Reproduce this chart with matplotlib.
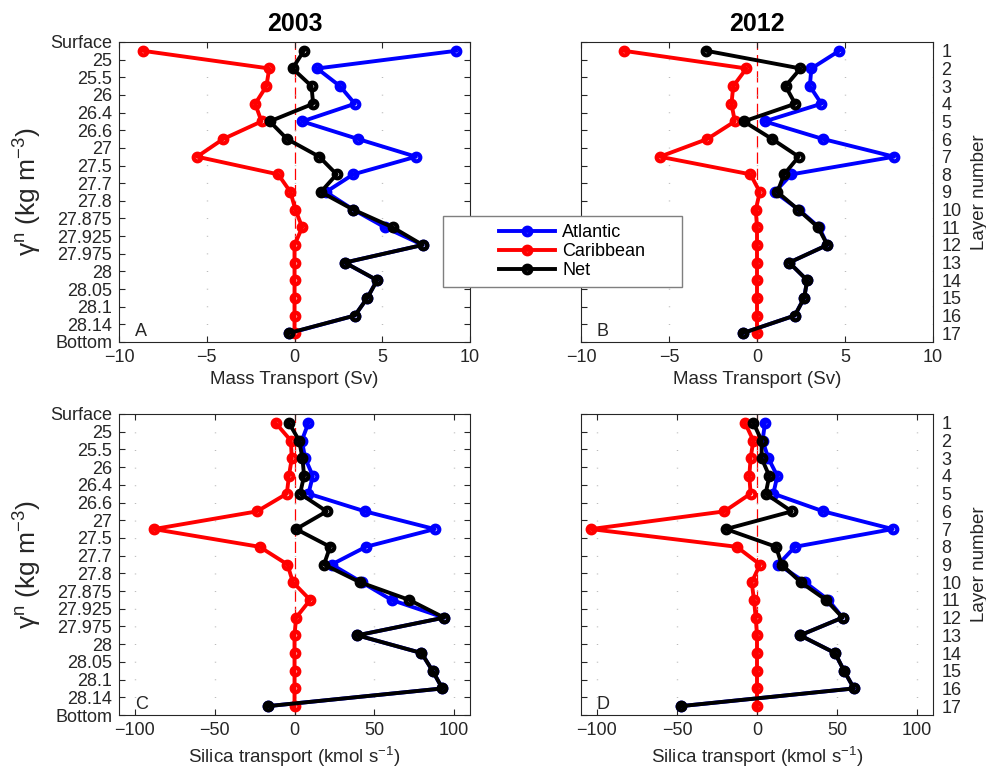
import numpy as np
import matplotlib
matplotlib.use('Agg')
import matplotlib.pyplot as plt
from matplotlib.patches import Rectangle

plt.rcParams['font.family'] = ['Liberation Sans', 'DejaVu Sans']
plt.rcParams['mathtext.fontset'] = 'custom'
plt.rcParams['mathtext.rm'] = 'Liberation Sans'
plt.rcParams['mathtext.it'] = 'Liberation Sans:italic'

# density levels (left axis) and layer numbers (right axis)
density_labels = ['Surface', '25', '25.5', '26', '26.4', '26.6', '27', '27.5', '27.7', '27.8',
                  '27.875', '27.925', '27.975', '28', '28.05', '28.1', '28.14', 'Bottom']
layer_numbers = list(range(1, 18))

# mass transport (Sv), 2003
mass_2003_atl = [9.2, 1.29, 2.59, 3.44, 0.44, 3.63, 6.92, 3.35, 1.79, 3.35, 5.15, 7.3, 2.87, 4.7, 4.15, 3.44, -0.3]
mass_2003_car = [-8.63, -1.44, -1.6, -2.24, -1.88, -4.07, -5.55, -0.93, -0.23, 0.05, 0.44, 0.0, 0.0, 0.0, 0.0, 0.0, 0.0]
mass_2003_net = [0.53, -0.11, 0.97, 1.06, -1.41, -0.42, 1.41, 2.4, 1.5, 3.35, 5.59, 7.3, 2.87, 4.71, 4.15, 3.44, -0.34]

# mass transport (Sv), 2012
mass_2012_atl = [4.67, 3.09, 3.0, 3.66, 0.44, 3.76, 7.79, 1.96, 1.01, 2.37, 3.53, 4.0, 1.83, 2.85, 2.68, 2.15, -0.82]
mass_2012_car = [-7.56, -0.6, -1.35, -1.45, -1.26, -2.83, -5.52, -0.37, 0.16, -0.07, 0.0, 0.0, 0.0, 0.0, 0.0, 0.0, 0.0]
mass_2012_net = [-2.87, 2.47, 1.62, 2.17, -0.75, 0.86, 2.37, 1.54, 1.16, 2.34, 3.47, 4.0, 1.83, 2.85, 2.68, 2.15, -0.82]

# silica transport (kmol/s), 2003
si_2003_atl = [8.75, 4.6, 6.7, 11.5, 8.75, 44.2, 87.9, 44.8, 23.3, 42.1, 60.8, 93.75, 39.4, 79.6, 86.5, 92.7, -16.7]
si_2003_car = [-11.9, -2.3, -1.7, -3.5, -4.8, -23.5, -88.1, -21.9, -4.4, -1.0, 9.8, 1.0, 0.0, 0.0, 0.0, 0.0, 0.0]
si_2003_net = [-3.5, 2.9, 5.0, 6.0, 3.5, 20.2, 1.0, 22.3, 18.5, 41.0, 71.9, 93.75, 39.4, 79.6, 86.5, 92.7, -16.7]

# silica transport (kmol/s), 2012
si_2012_atl = [5.0, 3.5, 7.1, 12.7, 10.2, 41.5, 84.8, 23.75, 13.3, 30.0, 44.6, 53.5, 26.9, 48.75, 54.4, 60.6, -47.7]
si_2012_car = [-7.5, -2.3, -4.0, -4.8, -4.0, -20.4, -103.75, -12.7, 1.9, -3.3, -1.9, -0.8, 0.0, 0.0, 0.0, 0.0, 0.0]
si_2012_net = [-2.3, 2.9, 2.9, 7.7, 5.4, 21.7, -19.4, 11.9, 15.4, 27.3, 43.1, 53.5, 26.9, 48.75, 54.4, 60.6, -47.7]

W, H = 987, 782
fig = plt.figure(figsize=(W / 100, H / 100), dpi=100)


def px_axes(x0, y0, x1, y1):
    return fig.add_axes([x0 / W, 1 - y1 / H, (x1 - x0) / W, (y1 - y0) / H])


axA = px_axes(119, 42, 470, 342)
axB = px_axes(581, 42, 933, 342)
axC = px_axes(119, 414, 470, 715)
axD = px_axes(581, 414, 933, 715)

layer_pos = np.arange(len(layer_numbers)) + 0.5
edge = '#262626'
# open circles with a thick edge: the line fills the hole except at the ends
series_style = dict(marker='o', mfc='none', ms=5.5, mew=3.0, lw=2.8)


def draw_panel(ax, atl, car, net, xlim, xticks, xlabel, letter, title=None, left=True):
    ax.axvline(0, color='red', lw=0.9, dashes=(9, 4), zorder=1)
    l1, = ax.plot(atl, layer_pos, color='blue', label='Atlantic', zorder=2, **series_style)
    l2, = ax.plot(car, layer_pos, color='red', label='Caribbean', zorder=3, **series_style)
    l3, = ax.plot(net, layer_pos, color='black', label='Net', zorder=4, **series_style)
    ax.set_xlim(*xlim)
    ax.set_ylim(len(layer_numbers), 0)
    ax.set_xticks(xticks)
    ax.set_yticks(np.arange(len(density_labels)))
    if left:
        ax.set_yticklabels(density_labels)
        ax.set_ylabel(r'$\mathrm{\gamma}^{\mathrm{n}}$ (kg m$^{\mathrm{-3}}$)', fontsize=19, color=edge, labelpad=4)
    else:
        ax.set_yticklabels([])
    ax.tick_params(direction='in', top=True, right=True, length=4, width=0.8,
                   labelsize=13, colors=edge, pad=5)
    ax.set_xlabel(xlabel, fontsize=13.5, color=edge, labelpad=4)
    ax.grid(axis='x', color='#b0b0b0', lw=1.0, linestyle=(0, (0.6, 12.1)))
    for s in ax.spines.values():
        s.set_color(edge)
        s.set_linewidth(0.8)
    ax.text(0.045, 0.005, letter, transform=ax.transAxes, fontsize=13, va='bottom', ha='left', color=edge)
    if title:
        ax.set_title(title, fontsize=18, fontweight='bold', pad=8)
    if not left:
        ax2 = ax.twinx()
        ax2.set_ylim(len(layer_numbers), 0)
        ax2.set_yticks(layer_pos)
        ax2.set_yticklabels([str(n) for n in layer_numbers])
        ax2.tick_params(length=0, labelsize=13, colors=edge, pad=6)
        ax2.set_ylabel('Layer number', fontsize=13.5, color=edge, labelpad=7)
        for s in ax2.spines.values():
            s.set_visible(False)
    return [l1, l2, l3]


handles = draw_panel(axA, mass_2003_atl, mass_2003_car, mass_2003_net, (-10, 10), [-10, -5, 0, 5, 10],
                     'Mass Transport (Sv)', 'A', title='2003')
draw_panel(axB, mass_2012_atl, mass_2012_car, mass_2012_net, (-10, 10), [-10, -5, 0, 5, 10],
           'Mass Transport (Sv)', 'B', title='2012', left=False)
draw_panel(axC, si_2003_atl, si_2003_car, si_2003_net, (-110, 110), [-100, -50, 0, 50, 100],
           'Silica transport (kmol s$^{\\mathrm{-1}}$)', 'C')
draw_panel(axD, si_2012_atl, si_2012_car, si_2012_net, (-110, 110), [-100, -50, 0, 50, 100],
           'Silica transport (kmol s$^{\\mathrm{-1}}$)', 'D', left=False)

# legend box sitting between the top panels
fig.add_artist(Rectangle((443 / W, 1 - 287 / H), 239 / W, 71 / H, transform=fig.transFigure,
                         facecolor='white', edgecolor='#7f7f7f', lw=1.0, zorder=5))
leg = fig.legend(handles, [h.get_label() for h in handles], loc='center left',
                 bbox_to_anchor=(490 / W, 1 - 251.5 / H), frameon=False, fontsize=13,
                 handlelength=3.1, handletextpad=0.4, borderpad=0, labelspacing=0.12)
leg.set_zorder(6)

fig.savefig('out.png', dpi=100)
